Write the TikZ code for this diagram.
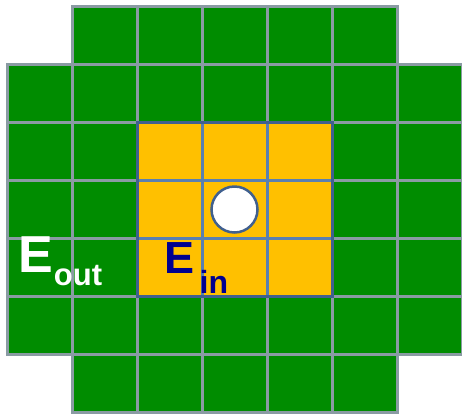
\documentclass[tikz,border=0pt]{standalone}
\usepackage{fontspec}
\setmainfont{Liberation Sans}
\definecolor{cellgreen}{HTML}{008C00}
\definecolor{cellorange}{HTML}{FFC000}
\definecolor{gridgray}{HTML}{8A9BA3}
\definecolor{gridblue}{HTML}{5A80B0}
\definecolor{borderblue}{HTML}{40608F}
\definecolor{textnavy}{HTML}{00008F}
\tikzset{
  greencell/.style={fill=cellgreen, draw=gridgray, line width=3pt},
  orangecell/.style={fill=cellorange, draw=gridblue, line width=3pt},
  labeltext/.style={inner sep=0pt, anchor=base west, font=\bfseries},
}
\begin{document}
\begin{tikzpicture}[x=1pt,y=-1pt]
\useasboundingbox (0,0) rectangle (462,416);
% green cells
\foreach \r in {0,...,6}{
  \foreach \c in {0,...,6}{
    \pgfmathtruncatemacro{\skip}{((\r==0 || \r==6) && (\c==0 || \c==6)) ? 1 : 0}
    \ifnum\skip=0
      \pgfmathsetmacro{\xa}{7+65*\c}
      \pgfmathsetmacro{\ya}{6+58.14*\r}
      \fill[cellgreen] (\xa,\ya) rectangle ++(65,58.14);
    \fi
  }
}
\foreach \r in {0,...,6}{
  \foreach \c in {0,...,6}{
    \pgfmathtruncatemacro{\skip}{((\r==0 || \r==6) && (\c==0 || \c==6)) ? 1 : 0}
    \ifnum\skip=0
      \pgfmathsetmacro{\xa}{7+65*\c}
      \pgfmathsetmacro{\ya}{6+58.14*\r}
      \draw[draw=gridgray, line width=3pt] (\xa,\ya) rectangle ++(65,58.14);
    \fi
  }
}
% orange cells
\foreach \r in {2,3,4}{
  \foreach \c in {2,3,4}{
    \pgfmathsetmacro{\xa}{7+65*\c}
    \pgfmathsetmacro{\ya}{6+58.14*\r}
    \draw[orangecell] (\xa,\ya) rectangle ++(65,58.14);
  }
}
\draw[draw=borderblue, line width=3pt] (137,122.28) rectangle (332,296.7);
% particle
\node[circle, minimum size=46pt, inner sep=0pt, fill=white, draw=borderblue, line width=2.5pt] (particle) at (234.5,209.5) {};
% labels
\node[labeltext, text=white] (eout) at (18,272)
  {\fontsize{52}{52}\selectfont E\hspace{1pt}\raisebox{-13pt}{\fontsize{31}{31}\selectfont out}};
\node[labeltext, text=textnavy] (ein) at (164.5,273)
  {\fontsize{45}{45}\selectfont E\hspace{5pt}\raisebox{-20pt}{\fontsize{32}{32}\selectfont in}};
\end{tikzpicture}
\end{document}
